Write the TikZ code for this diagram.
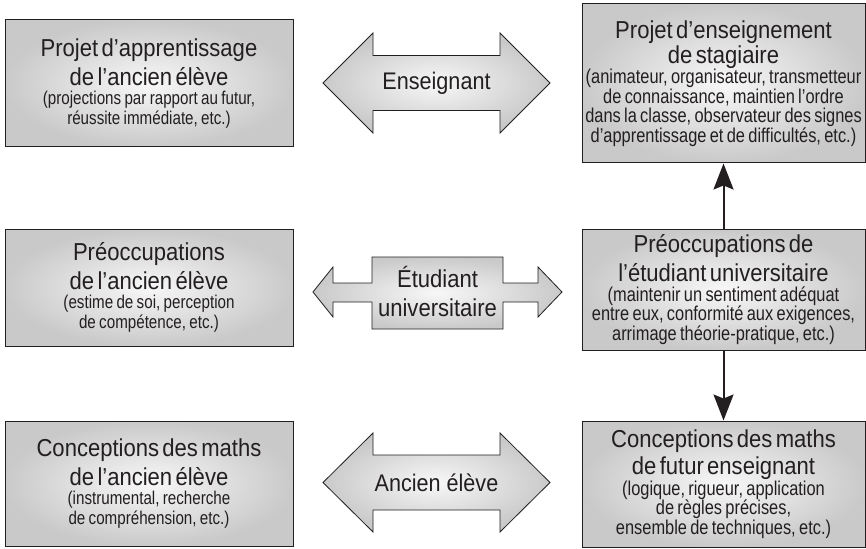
\documentclass[tikz,border=0pt]{standalone}
\usepackage{fontspec}
\setmainfont{Liberation Sans}[FakeStretch=0.82]
\newfontfamily\ttlfam{Liberation Sans}[FakeStretch=0.9]
\usetikzlibrary{arrows.meta}
\definecolor{ink}{HTML}{231F20}
\newcommand{\ttlf}{\ttlfam\fontsize{24.5}{28.5}\selectfont}
\newcommand{\smlf}{\fontsize{18.5}{19.5}\selectfont}
\newcommand{\smrf}{\fontsize{20}{19.5}\selectfont}
\newcommand{\lblf}{\ttlfam\fontsize{24}{27}\selectfont}
\newcommand{\lblbig}{\ttlfam\fontsize{24.5}{29}\selectfont}
\tikzset{
  box/.style={draw=ink, line width=1pt, inner color=gray!6, outer color=gray!42,
    inner sep=0pt, align=center, text=ink, text width=#1},
  bigarrow/.style={draw=ink, line width=0.8pt, inner color=gray!6, outer color=gray!42},
  alabel/.style={text=ink, align=center, inner sep=0pt},
  vert/.style={draw=ink, line width=2pt, -{Stealth[length=26pt,width=20pt,inset=4pt]}}
}
\begin{document}
\begin{tikzpicture}[x=1pt,y=-1pt]
\useasboundingbox[fill=white] (0,0) rectangle (866,548);
% boxes
\node[box=284pt, minimum width=288pt, minimum height=127pt] (tl) at (149,83.5)
 {{\ttlf Projet d’apprentissage\\ de l’ancien élève\par}{\smlf (projections par rapport au futur,\\ réussite immédiate, etc.)\par}};
\node[box=284pt, minimum width=288pt, minimum height=117pt] (ml) at (149,287.5)
 {{\ttlf Préoccupations\\ de l’ancien élève\par}{\smlf (estime de soi, perception\\ de compétence, etc.)\par}};
\node[box=284pt, minimum width=288pt, minimum height=125pt] (bl) at (149,483.5)
 {{\ttlf Conceptions des maths\\ de l’ancien élève\par}{\smlf (instrumental, recherche\\ de compréhension, etc.)\par}};
\node[box=283pt, minimum width=283pt, minimum height=159pt] (tr) at (723.5,83.5)
 {{\ttlf Projet d’enseignement\\[-3.5pt] de stagiaire\par}{\smrf (animateur, organisateur, transmetteur\\ de connaissance, maintien l’ordre\\ dans la classe, observateur des signes\\ d’apprentissage et de difficultés, etc.)\par}};
\node[box=283pt, minimum width=283pt, minimum height=121pt] (mr) at (723.5,289.5)
 {{\ttlf Préoccupations de\\[1pt] l’étudiant universitaire\par}{\smrf (maintenir un sentiment adéquat\\ entre eux, conformité aux exigences,\\ arrimage théorie-pratique, etc.)\par}};
\node[box=283pt, minimum width=283pt, minimum height=126pt] (br) at (723.5,484)
 {{\ttlf Conceptions des maths\\[-1.5pt] de futur enseignant\par}{\smrf (logique, rigueur, application\\ de règles précises,\\ ensemble de techniques, etc.)\par}};
% vertical arrows
\draw[vert] (mr.north) -- (tr.south);
\draw[vert] (mr.south) -- (br.north);
% big double arrows
\path[bigarrow] (323,83) -- (373,33) -- (373,55.5) -- (500,55.5) -- (500,33) -- (550,83)
  -- (500,133) -- (500,110.5) -- (373,110.5) -- (373,133) -- cycle;
\node[alabel, font=\lblf] (ens) at (436.5,83) {Enseignant};
\path[bigarrow] (313,292) -- (333,267) -- (333,283) -- (372,283) -- (372,257) -- (503,257)
  -- (503,283) -- (538,283) -- (538,267) -- (562,292) -- (538,317) -- (538,302) -- (503,302)
  -- (503,329) -- (372,329) -- (372,302) -- (333,302) -- (333,317) -- cycle;
\node[alabel, font=\lblbig] (etu) at (437.5,291.5) {Étudiant\\ universitaire};
\path[bigarrow] (323,482.5) -- (373,433) -- (373,455) -- (500,455) -- (500,433) -- (550,482.5)
  -- (500,532) -- (500,510) -- (373,510) -- (373,532) -- cycle;
\node[alabel, font=\lblf] (anc) at (436.5,482.5) {Ancien élève};
\end{tikzpicture}
\end{document}
